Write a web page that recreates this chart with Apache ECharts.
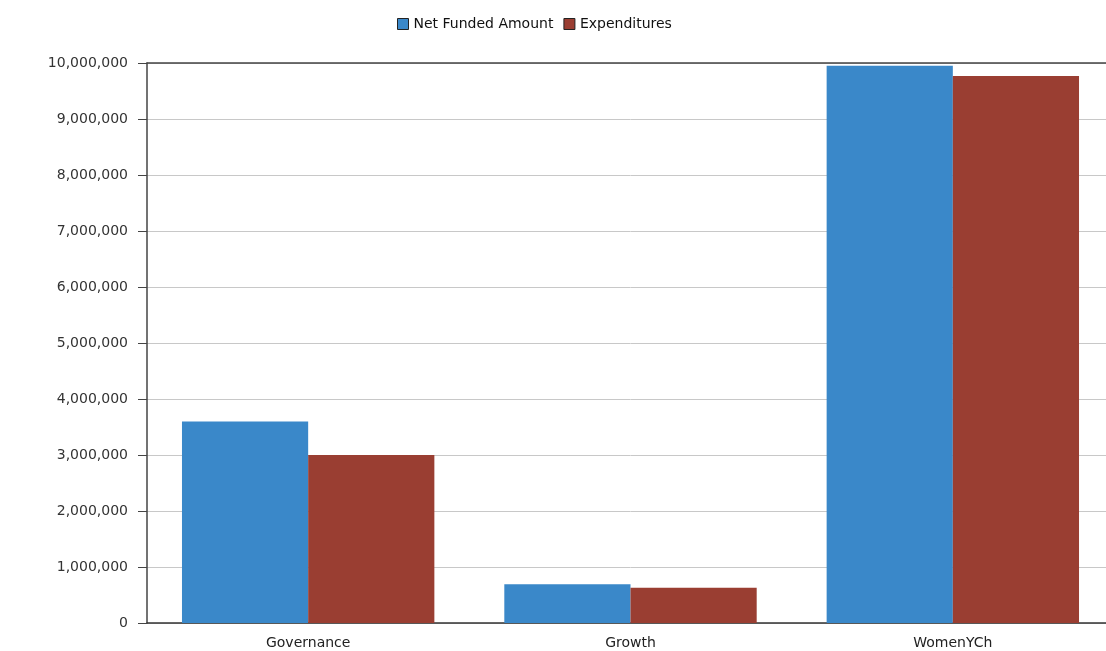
<!DOCTYPE html>
<html>
<head>
<meta charset="utf-8">
<script src="https://cdn.jsdelivr.net/npm/echarts@6/dist/echarts.min.js"></script>
<style>html,body{margin:0;padding:0;background:#fff;overflow:hidden;width:1106px;height:651px}#c{width:1114px;height:651px}</style>
</head>
<body>
<div id="c"></div>
<script>
const categories = ['Governance', 'Growth', 'WomenYCh'];
const netFunded = [3600000, 690000, 9950000];
const expenditures = [3000000, 630000, 9770000];
const yTicks = [0, 1000000, 2000000, 3000000, 4000000, 5000000, 6000000, 7000000, 8000000, 9000000, 10000000];

const chart = echarts.init(document.getElementById('c'));
const fmt = v => v.toLocaleString('en-US');
chart.setOption({
  animation: false,
  textStyle: { fontFamily: 'DejaVu Sans' },
  legend: {
    top: 12, left: 392,
    itemWidth: 11, itemHeight: 11, itemGap: 10,
    icon: 'rect',
    itemStyle: { borderColor: '#222', borderWidth: 1 },
    textStyle: { fontSize: 14, color: '#111', fontFamily: 'DejaVu Sans' },
    data: ['Net Funded Amount', 'Expenditures']
  },
  grid: { left: 147, top: 63, right: 0, bottom: 28, containLabel: false },
  xAxis: [{
    type: 'category', data: categories,
    axisLine: { lineStyle: { color: '#333', width: 1.5 } },
    axisTick: { alignWithLabel: true, length: 6, lineStyle: { color: '#333' } },
    axisLabel: { fontSize: 14, color: '#222', margin: 13 }
  }, {
    type: 'category', data: categories, position: 'top',
    axisLine: { show: true, lineStyle: { color: '#444', width: 1.5 } },
    axisTick: { show: false }, axisLabel: { show: false }
  }],
  yAxis: {
    type: 'value', min: yTicks[0], max: yTicks[yTicks.length - 1], interval: yTicks[1] - yTicks[0],
    axisLine: { show: true, lineStyle: { color: '#444', width: 1.5 } },
    axisTick: { show: true, length: 9, lineStyle: { color: '#444' } },
    axisLabel: { fontSize: 14, color: '#333', margin: 19, formatter: fmt },
    splitLine: { lineStyle: { color: '#c8c8c8' } }
  },
  series: [{
    name: 'Net Funded Amount', type: 'bar', data: netFunded,
    barGap: '0%', barCategoryGap: '21.7%',
    itemStyle: { color: '#3a88c9' }
  }, {
    name: 'Expenditures', type: 'bar', data: expenditures,
    itemStyle: { color: '#9a3e32' }
  }]
});
</script>
</body>
</html>
